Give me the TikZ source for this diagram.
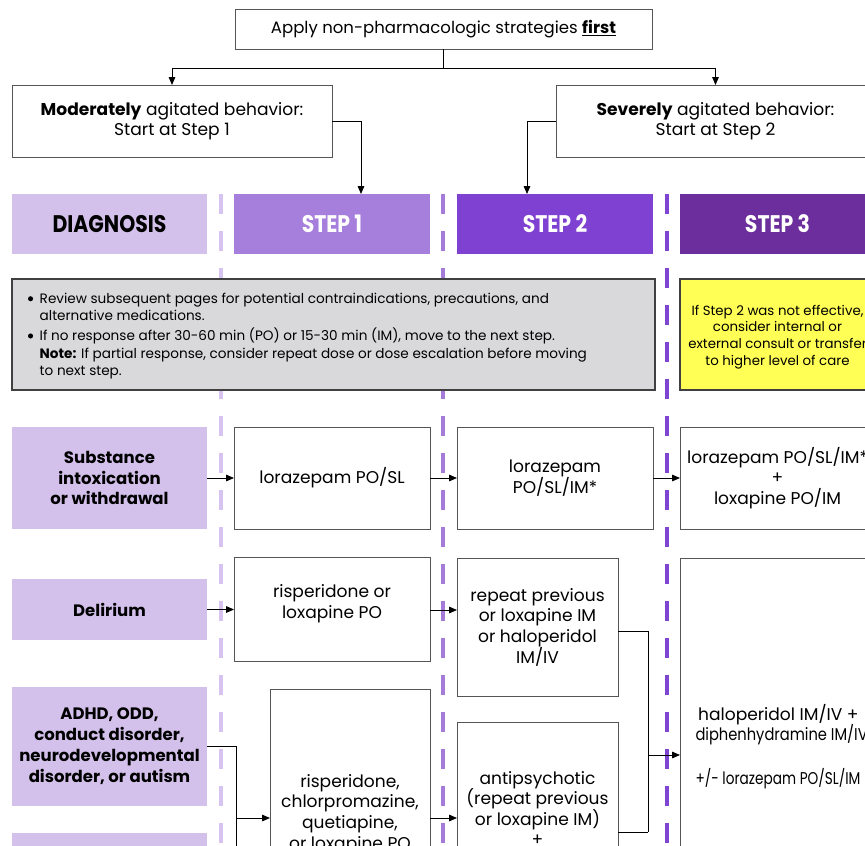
\documentclass[tikz,border=0pt]{standalone}
\usepackage{fontspec}
\usepackage{graphicx}
\setmainfont{Poppins}
\newfontfamily\hdfont[FakeStretch=0.85]{Poppins}
\usetikzlibrary{arrows.meta,calc}
\definecolor{cdiag}{HTML}{D4C1EB}
\definecolor{cstepa}{HTML}{A67FDC}
\definecolor{cstepb}{HTML}{7F41D1}
\definecolor{cstepc}{HTML}{6B2E9C}
\definecolor{cdasha}{HTML}{D6C3EF}
\definecolor{cdashb}{HTML}{A47CD8}
\definecolor{cdashc}{HTML}{7D45D2}
\definecolor{cgray}{HTML}{D9D9DB}
\definecolor{cgrayline}{HTML}{404040}
\definecolor{cyel}{HTML}{FFFF55}
\definecolor{cbox}{HTML}{555555}
\newcommand{\bigbul}{\raisebox{0.3ex}{\tikz\fill (0,0) circle (1.9pt);}}
\begin{document}
\begin{tikzpicture}[x=0.75pt,y=-0.75pt,
  sz/.style 2 args={minimum width=#1*0.75pt,minimum height=#2*0.75pt},
  base/.style={inner sep=0pt,outer sep=0pt,align=center},
  wbox/.style={base,draw=cbox,line width=0.7pt,fill=white,font=\fontsize{12.8}{15.5}\selectfont},
  lbox/.style={base,fill=cdiag,font=\fontsize{12.4}{15.7}\selectfont\bfseries},
  hdr/.style={base,font=\hdfont\fontsize{18}{20}\selectfont\bfseries},
  conn/.style={draw=black,line width=0.6pt},
  arr/.style={conn,-{Triangle[length=6pt,width=5pt]}},
  vdash/.style={line width=2.3pt,dash pattern=on 15pt off 12.75pt}
]
\useasboundingbox (0,0) rectangle (865,846);
\clip (0,0) rectangle (865,846);

% dashed column separators
\draw[vdash,cdasha] (221,194) -- (221,860);
\draw[vdash,cdashb] (443,194) -- (443,860);
\draw[vdash,cdashc] (667,194) -- (667,860);

% top part
\node[wbox,sz={417}{40},font=\fontsize{12.4}{14}\selectfont] (top) at (443.5,29)
  {Apply non-pharmacologic strategies \textbf{\underline{first}}};
\node[wbox,sz={320}{72},font=\fontsize{12.8}{15}\selectfont] (mod) at (172,121)
  {\textbf{Moderately} agitated behavior:\\Start at Step 1};
\node[wbox,sz={319}{72},font=\fontsize{12.8}{15}\selectfont] (sev) at (715.5,121)
  {\textbf{Severely} agitated behavior:\\Start at Step 2};

% headers
\node[hdr,sz={195}{60},fill=cdiag,text=black] (diag) at (109.5,224) {DIAGNOSIS};
\node[hdr,sz={196}{60},fill=cstepa,text=white] (s1) at (332,224) {STEP 1};
\node[hdr,sz={196}{60},fill=cstepb,text=white] (s2) at (555,224) {STEP 2};
\node[hdr,sz={195}{60},fill=cstepc,text=white] (s3) at (777.5,224) {STEP 3};

% notes
\node[base,sz={643}{111},fill=cgray,draw=cgrayline,line width=1.3pt] (gray) at (333.5,334.5) {};
\node[base,anchor=west,align=left,font=\fontsize{10.2}{13}\selectfont] (graytxt) at (28,336)
  {\begin{tabular}{@{}l@{\hspace{5pt}}l@{}}
   \bigbul & Review subsequent pages for potential contraindications, precautions, and\\
   & alternative medications.\\[1.5pt]
   \bigbul & If no response after 30-60 min (PO) or 15-30 min (IM), move to the next step.\\
   & \textbf{Note:} If partial response, consider repeat dose or dose escalation before moving\\
   & to next step.
   \end{tabular}};
\node[base,sz={195}{111},fill=cyel,draw=cgrayline,line width=1.3pt] (yel) at (777.5,334.5) {};
\node[base,font=\fontsize{10}{12.5}\selectfont] (yeltxt) at (777.5,337)
  {If Step 2 was not effective,\\consider internal or\\external consult or transfer\\to higher level of care};

% row 1
\node[lbox,sz={195}{102}] (sub) at (109.5,478) {Substance\\intoxication\\or withdrawal};
\node[wbox,sz={196}{102}] (ra) at (332,478) {lorazepam PO/SL};
\node[wbox,sz={196}{102}] (rb) at (555,478) {lorazepam\\PO/SL/IM*};
\node[wbox,sz={195}{102}] (rc) at (777.5,478) {};
\node[base,font=\fontsize{12.8}{15.5}\selectfont] (rctxt) at (777.5,478) {lorazepam PO/SL/IM*\\+\\loxapine PO/IM};

% row 2
\node[lbox,sz={195}{61}] (del) at (109.5,609.5) {Delirium};
\node[wbox,sz={196}{104}] (ris) at (332,609) {};
\node[base,font=\fontsize{12.8}{15.5}\selectfont] (ristxt) at (332,604) {risperidone or\\loxapine PO};
\node[wbox,sz={161}{138}] (rep) at (537.5,627) {repeat previous\\or loxapine IM\\or haloperidol\\IM/IV};
\node[wbox,sz={195}{376}] (big) at (777.5,746) {};
\node[base,anchor=west,align=left,font=\fontsize{12.8}{15.5}\selectfont] (bigtxt) at (695.5,746.5)
  {\hspace{2pt}haloperidol IM/IV +\\
   \scalebox{0.86}[1]{diphenhydramine IM/IV}\\[17pt]
   \scalebox{0.8}[1]{+/- lorazepam PO/SL/IM}};

% row 3
\node[lbox,sz={195}{119}] (adhd) at (109.5,746.5)
  {ADHD, ODD,\\conduct disorder,\\neurodevelopmental\\disorder, or autism};
\node[lbox,sz={195}{70}] (nxt) at (109.5,868) {};
\node[wbox,sz={160}{258}] (chl) at (350,818) {};
\node[base,font=\fontsize{12.8}{15.5}\selectfont] (chltxt) at (350,814)
  {risperidone,\\chlorpromazine,\\quetiapine,\\or loxapine PO};
\node[wbox,sz={161}{173}] (anti) at (537.5,808.5)
  {antipsychotic\\(repeat previous\\or loxapine IM)\\+};

% connectors
\coordinate (j) at (443.5,68);
\draw[conn] (top.south) -- (j);
\draw[arr] (j) -| (mod.north);
\draw[arr] (j) -| (sev.north);
\draw[arr] (mod.east) -| ($(s1.north)+(29,0)$);
\draw[arr] (sev.west) -| ($(s2.north)+(-28,0)$);

\draw[arr] (sub.east) -- (ra.west);
\draw[arr] (ra.east) -- (rb.west);
\draw[arr] (rb.east) -- (rc.west);

\draw[arr] (del.east) -- (del.east -| ris.west);
\draw[arr] ($(ris.east)+(0,1)$) -- ($(ris.east -| rep.west)+(0,1)$);

\coordinate (jb) at (648,832);
\coordinate (jm) at (648,755);
\draw[conn] ($(rep.east)+(0,4)$) -| (jb);
\draw[conn] (jb) -- (jb -| anti.east);
\draw[arr] (jm) -- (jm -| big.west);

\coordinate (ja) at (236,818);
\draw[conn] (adhd.east) -| (ja);
\draw[conn] (nxt.east) -| (ja);
\draw[arr] (ja) -- (chl.west);
\draw[arr] (chl.east) -- (chl.east -| anti.west);
\end{tikzpicture}
\end{document}
